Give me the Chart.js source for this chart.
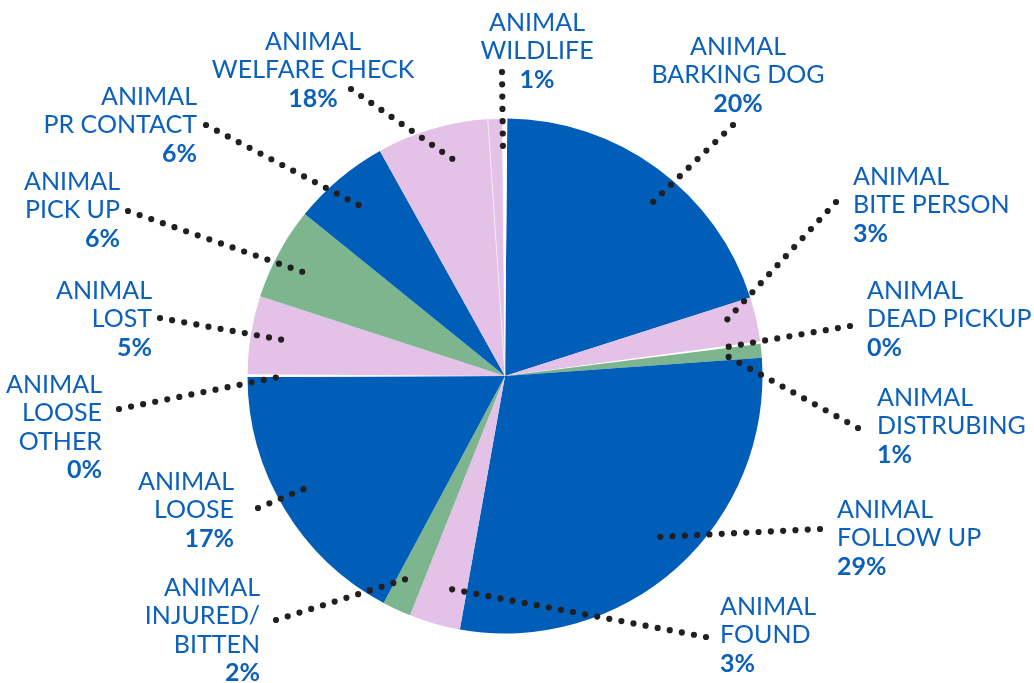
<!DOCTYPE html>
<html><head><meta charset="utf-8">
<script src="https://cdn.jsdelivr.net/npm/chart.js@4"></script>
<style>html,body{margin:0;padding:0;background:#fff;} canvas{display:block}</style>
</head><body>
<canvas id="c" width="1034" height="683"></canvas>
<script>
// ---- data ----
const categories = ["ANIMAL\nBARKING DOG","ANIMAL\nBITE PERSON","ANIMAL\nDEAD PICKUP","ANIMAL\nDISTRUBING","ANIMAL\nFOLLOW UP","ANIMAL\nFOUND","ANIMAL\nINJURED/\nBITTEN","ANIMAL\nLOOSE","ANIMAL\nLOOSE\nOTHER","ANIMAL\nLOST","ANIMAL\nPICK UP","ANIMAL\nPR CONTACT","ANIMAL\nWELFARE CHECK","ANIMAL\nWILDLIFE",""];
const percentLabels = ["20%","3%","0%","1%","29%","3%","2%","17%","0%","5%","6%","6%","18%","1%",""];
const sliceValues = [19.9,2.8,0.14,0.86,28.9,3.2,1.8,17.1,0.17,4.9,5.8,6.1,7.0,0.9,0.3];

// ---- styles / layout ----
const BLUE = '#005EB8', PINK = '#E4C1E7', GREEN = '#7DB68E', WHITE = '#FFFFFF';
const sliceColors = [BLUE,PINK,WHITE,GREEN,BLUE,PINK,GREEN,BLUE,WHITE,PINK,GREEN,BLUE,PINK,PINK,WHITE];
const TEXT_COLOR = '#0B60BC';
const FONT_SIZE = 25, LINE_STEP = 28.5, CAP = 0.7165;
const labelLayout = [
  {align:'center', x:738, top:37,  end:[733,125], adj:3.8},
  {align:'left',   x:853, top:167, end:[836,202], adj:0},
  {align:'left',   x:867, top:281, end:[850,326], adj:0},
  {align:'left',   x:877, top:388, end:[858,428], adj:0},
  {align:'left',   x:837, top:500, end:[820,529], adj:-1},
  {align:'left',   x:720, top:597, end:[706,637], adj:-0.5},
  {align:'right',  x:260, top:578, end:[276,620], adj:-0.5},
  {align:'right',  x:234, top:472, end:[258,508], adj:1.4},
  {align:'right',  x:102, top:375, end:[119,409], adj:0},
  {align:'right',  x:152, top:281, end:[160,318], adj:0},
  {align:'right',  x:120, top:172, end:[128,211], adj:-1},
  {align:'right',  x:197, top:87,  end:[206,125], adj:0},
  {align:'center', x:313, top:32,  end:[351,89],  adj:3.6},
  {align:'center', x:537, top:13,  end:[502,72],  adj:1.7},
  null
];

const labelPlugin = {
  id: 'leaderLabels',
  afterDatasetsDraw(chart) {
    const ctx = chart.ctx;
    const meta = chart.getDatasetMeta(0);
    meta.data.forEach((arc, i) => {
      const L = labelLayout[i];
      if (!L) return;
      const mid = (arc.startAngle + arc.endAngle) / 2 + L.adj * Math.PI / 180;
      const r = arc.outerRadius * 0.855;
      const ix = arc.x + r * Math.cos(mid), iy = arc.y + r * Math.sin(mid);
      // dotted leader
      ctx.save();
      ctx.strokeStyle = '#231F20';
      ctx.lineWidth = 6.2;
      ctx.lineCap = 'round';
      ctx.setLineDash([0, 12.3]);
      ctx.beginPath();
      ctx.moveTo(L.end[0], L.end[1]);
      ctx.lineTo(ix, iy);
      ctx.stroke();
      ctx.restore();
      // text
      ctx.save();
      ctx.fillStyle = TEXT_COLOR;
      ctx.textAlign = L.align;
      ctx.textBaseline = 'alphabetic';
      const lines = categories[i].split('\n');
      let y = L.top + FONT_SIZE * CAP;
      ctx.font = `${FONT_SIZE}px Lato`;
      lines.forEach(t => { ctx.fillText(t, L.x, y); y += LINE_STEP; });
      ctx.font = `bold ${FONT_SIZE}px Lato`;
      ctx.fillText(percentLabels[i], L.x, y);
      ctx.restore();
    });
  }
};

new Chart(document.getElementById('c'), {
  type: 'pie',
  data: {
    labels: categories,
    datasets: [{
      data: sliceValues,
      backgroundColor: sliceColors,
      borderWidth: sliceValues.map((v, i) => i === 13 ? 1 : 0),
      borderColor: 'rgba(255,255,255,0.55)'
    }]
  },
  options: {
    responsive: false,
    animation: false,
    rotation: 0.5,
    events: [],
    layout: { padding: { left: 247, right: 271, top: 118, bottom: 49 } },
    plugins: { legend: { display: false }, tooltip: { enabled: false } }
  },
  plugins: [labelPlugin]
});
</script>
</body></html>
